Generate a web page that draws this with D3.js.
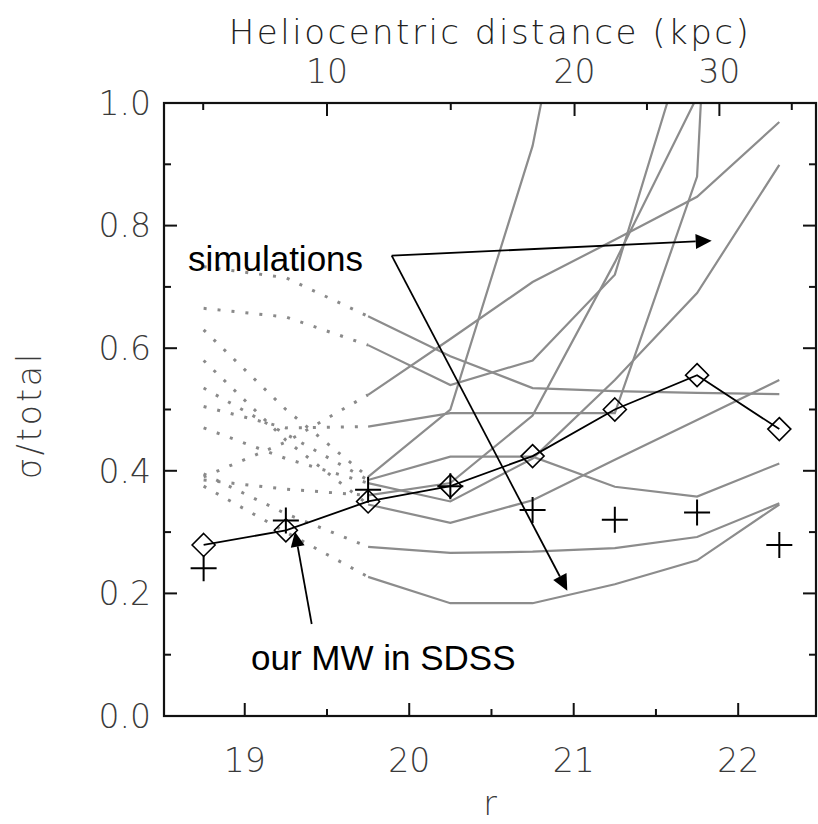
<!DOCTYPE html>
<html><head><meta charset="utf-8">
<script src="https://cdn.jsdelivr.net/npm/d3@7"></script>
<style>body{margin:0;background:#fff}</style>
</head><body>
<svg id="c" width="818" height="824"></svg>
<script>
// ---- data ----
const rBins = [18.75, 19.25, 19.75, 20.25, 20.75, 21.25, 21.75, 22.25];
const mwSigma = [0.279, 0.303, 0.350, 0.375, 0.424, 0.500, 0.556, 0.468];
const crossSigma = [0.241, 0.319, 0.369, 0.375, 0.336, 0.320, 0.332, 0.279];
const sim01 = [0.733, 0.715, 0.652, 0.587, 0.535, 0.530, 0.527, 0.525];
const sim02 = [0.665, 0.651, 0.605, 0.540, 0.580, 0.720, 1.160, 1.600];
const sim03 = [0.390, 0.447, 0.524, 0.615, 0.708, 0.777, 0.847, 0.969];
const sim04 = [0.505, 0.470, 0.472, 0.494, 0.494, 0.494, 0.880, 3.500];
const sim05 = [0.630, 0.500, 0.390, 0.500, 0.930, 1.600, 2.000, 2.500];
const sim06 = [0.470, 0.420, 0.380, 0.350, 0.420, 0.548, 0.690, 0.899];
const sim07 = [0.580, 0.450, 0.345, 0.315, 0.352, 0.418, 0.483, 0.548];
const sim08 = [0.535, 0.460, 0.385, 0.423, 0.423, 0.374, 0.358, 0.412];
const sim09 = [0.395, 0.330, 0.276, 0.266, 0.268, 0.274, 0.292, 0.347];
const sim10 = [0.375, 0.300, 0.227, 0.184, 0.184, 0.215, 0.254, 0.345];
const sim11 = [0.385, 0.370, 0.360, 0.380, 0.490, 0.740, 1.010, 1.300];
const sims = [sim01, sim02, sim03, sim04, sim05, sim06, sim07, sim08, sim09, sim10, sim11];
const xTicks = [19, 20, 21, 22];
const xMinor = [19.5, 20.5, 21.5];
const yTicks = [0.0, 0.2, 0.4, 0.6, 0.8, 1.0];
const yMinor = [0.1, 0.3, 0.5, 0.7, 0.9];
const distTicks = [10, 20, 30];

// ---- layout ----
const L = 164, R = 816, T = 103, B = 716;
const x = d3.scaleLinear().domain([18.5, 22.47]).range([162.5, 815.5]);
const y = d3.scaleLinear().domain([0, 1]).range([B, T]);
const rOfDist = d => 19.5 + 5 * Math.log10(d / 10);

const svg = d3.select("#c");
const axisFont = "'DejaVu Sans', sans-serif";
const annFont = "'Liberation Sans', Arial, sans-serif";

svg.append("defs").append("clipPath").attr("id", "clip")
  .append("rect").attr("x", L).attr("y", T).attr("width", R - L).attr("height", B - T);

const plot = svg.append("g").attr("clip-path", "url(#clip)");

// simulations
const line = d3.line().x(d => x(d[0])).y(d => y(d[1]));
sims.forEach(s => {
  const pts = rBins.map((r, i) => [r, s[i]]);
  plot.append("path").attr("d", line(pts.slice(0, 3)))
    .attr("fill", "none").attr("stroke", "#8a8a8a").attr("stroke-width", 3)
    .attr("stroke-dasharray", "3 11");
  plot.append("path").attr("d", line(pts.slice(2)))
    .attr("fill", "none").attr("stroke", "#8c8c8c").attr("stroke-width", 2.2);
});

// MW line + diamonds
const mwPts = rBins.map((r, i) => [r, mwSigma[i]]);
plot.append("path").attr("d", line(mwPts)).attr("fill", "none")
  .attr("stroke", "#000").attr("stroke-width", 1.8);
plot.selectAll(".dia").data(mwPts).enter().append("path")
  .attr("d", d => { const cx = x(d[0]), cy = y(d[1]), s = 11.5;
    return `M${cx},${cy - s}L${cx + s},${cy}L${cx},${cy + s}L${cx - s},${cy}Z`; })
  .attr("fill", "none").attr("stroke", "#000").attr("stroke-width", 1.6);

// crosses
const crPts = rBins.map((r, i) => [r, crossSigma[i]]);
plot.selectAll(".cr").data(crPts).enter().append("path")
  .attr("d", d => { const cx = x(d[0]), cy = y(d[1]), s = 13;
    return `M${cx - s},${cy}L${cx + s},${cy}M${cx},${cy - s}L${cx},${cy + s}`; })
  .attr("stroke", "#000").attr("stroke-width", 2);

// frame
svg.append("rect").attr("x", L).attr("y", T).attr("width", R - L).attr("height", B - T)
  .attr("fill", "none").attr("stroke", "#111").attr("stroke-width", 2.2);

const tk = svg.append("g").attr("stroke", "#111").attr("stroke-width", 2);
const MAJ = 13, MIN = 7;
xTicks.forEach(v => {
  tk.append("line").attr("x1", x(v)).attr("x2", x(v)).attr("y1", B).attr("y2", B - MAJ);
});
xMinor.forEach(v => {
  tk.append("line").attr("x1", x(v)).attr("x2", x(v)).attr("y1", B).attr("y2", B - MIN);
});
yTicks.forEach(v => {
  tk.append("line").attr("x1", L).attr("x2", L + MAJ).attr("y1", y(v)).attr("y2", y(v));
  tk.append("line").attr("x1", R).attr("x2", R - MAJ).attr("y1", y(v)).attr("y2", y(v));
});
yMinor.forEach(v => {
  tk.append("line").attr("x1", L).attr("x2", L + MIN).attr("y1", y(v)).attr("y2", y(v));
  tk.append("line").attr("x1", R).attr("x2", R - MIN).attr("y1", y(v)).attr("y2", y(v));
});
// top distance axis
const rMaj = distTicks.map(rOfDist);
const rMin = [rMaj[0] - (rMaj[1] - rMaj[0]) / 2, (rMaj[0] + rMaj[1]) / 2,
              (rMaj[1] + rMaj[2]) / 2, rMaj[2] + (rMaj[2] - rMaj[1]) / 2];
rMaj.forEach(v => tk.append("line").attr("x1", x(v)).attr("x2", x(v)).attr("y1", T).attr("y2", T + MAJ));
rMin.forEach(v => tk.append("line").attr("x1", x(v)).attr("x2", x(v)).attr("y1", T).attr("y2", T + MIN));

// tick labels
const lab = svg.append("g").attr("font-family", axisFont).attr("font-weight", 200)
  .attr("fill", "#3a3a3a").attr("font-size", 33);
xTicks.forEach(v => lab.append("text").attr("x", x(v)).attr("y", 772)
  .attr("text-anchor", "middle").text(d3.format("d")(v)));
yTicks.forEach(v => lab.append("text").attr("x", 151).attr("y", y(v))
  .attr("dy", "0.36em").attr("text-anchor", "end").text(d3.format(".1f")(v)));
distTicks.forEach((d, i) => lab.append("text").attr("x", x(rMaj[i])).attr("y", 83)
  .attr("text-anchor", "middle").text(d));
lab.append("text").attr("x", 490).attr("y", 44).attr("text-anchor", "middle")
  .attr("fill", "#222").attr("font-size", 34).attr("letter-spacing", 2.5)
  .text("Heliocentric distance (kpc)");
lab.append("text").attr("x", 490).attr("y", 815).attr("text-anchor", "middle").text("r");
lab.append("text").attr("transform", "translate(41,415) rotate(-90)")
  .attr("text-anchor", "middle").attr("letter-spacing", 3).text("σ/total");

// annotations
const ann = svg.append("g");
ann.append("text").attr("x", 188).attr("y", 271).attr("font-family", annFont)
  .attr("font-size", 35).attr("fill", "#000").text("simulations");
ann.append("text").attr("x", 251).attr("y", 670).attr("font-family", annFont)
  .attr("font-size", 35).attr("fill", "#000").text("our MW in SDSS");

function arrow(x1, y1, x2, y2, len, hw) {
  const a = Math.atan2(y2 - y1, x2 - x1);
  const bx = x2 - len * Math.cos(a), by = y2 - len * Math.sin(a);
  ann.append("line").attr("x1", x1).attr("y1", y1).attr("x2", bx).attr("y2", by)
    .attr("stroke", "#000").attr("stroke-width", 1.8);
  const px = -Math.sin(a) * hw, py = Math.cos(a) * hw;
  ann.append("path").attr("d", `M${x2},${y2}L${bx + px},${by + py}L${bx - px},${by - py}Z`)
    .attr("fill", "#000");
}
arrow(391.7, 255.7, 711.7, 240.7, 16, 7.5);
arrow(391.7, 255.7, 567.3, 590.7, 16, 7.5);
arrow(311.7, 624, 295, 531.7, 15, 7);
</script>
</body></html>
